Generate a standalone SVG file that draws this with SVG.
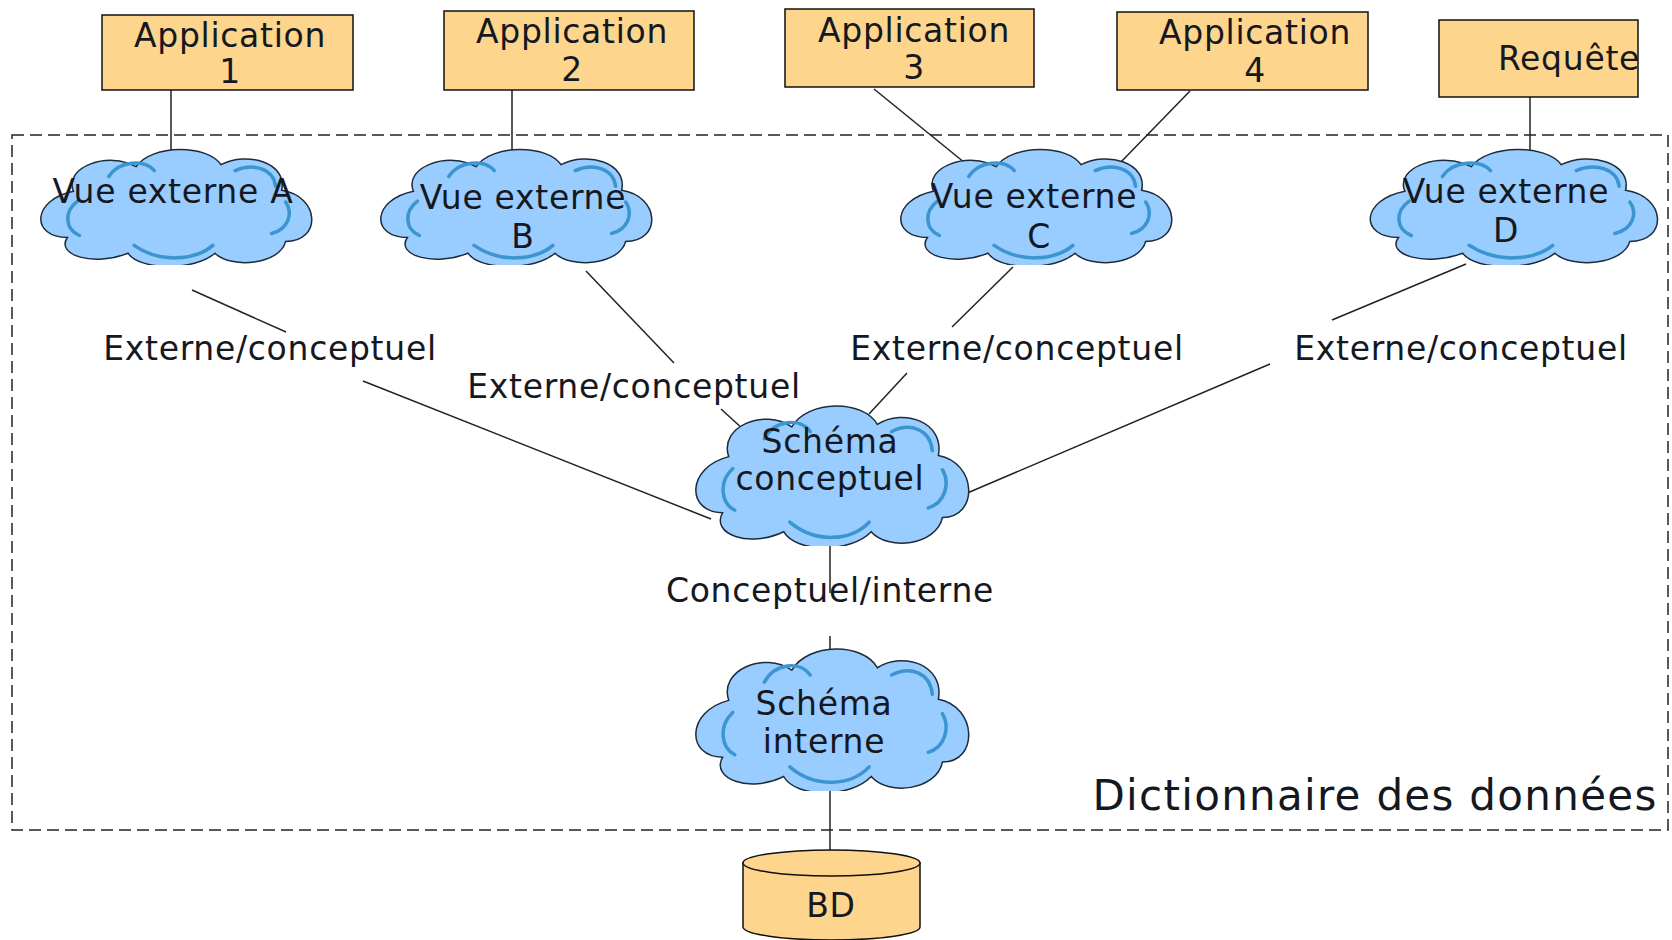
<svg xmlns="http://www.w3.org/2000/svg" width="1672" height="940" viewBox="0 0 1672 940">
<style>
text{font-family:"DejaVu Sans","Liberation Sans",sans-serif;font-size:33px;fill:#15181f;text-anchor:middle;letter-spacing:0.7px}
.box{fill:#fdd58c;stroke:#111;stroke-width:1.5}
.ln{stroke:#222;stroke-width:1.5;fill:none}
.frame{fill:none;stroke:#222;stroke-width:1.5;stroke-dasharray:12 6}
.cl{fill:#99ccff;stroke:#1d2b3a;stroke-width:1.5}
.hl{fill:none;stroke:#3a95d0;stroke-width:3.5;stroke-linecap:round}
</style>
<defs>
<symbol id="cloud" viewBox="0 0 280 120" preserveAspectRatio="none">
<path class="cl" vector-effect="non-scaling-stroke" d="M40 45 C30 20 75 4 102 20 C118 -3 172 -3 186 18 C212 4 252 16 246 44 C284 50 286 96 250 96 C244 120 196 124 180 108 C160 126 106 126 94 108 C60 122 22 110 34 92 C-2 92 -2 54 40 45 Z"/>
<path class="hl" vector-effect="non-scaling-stroke" d="M75 30 C85 14 110 12 120 24"/>
<path class="hl" vector-effect="non-scaling-stroke" d="M200 24 C218 16 238 22 240 40"/>
<path class="hl" vector-effect="non-scaling-stroke" d="M44 55 C30 66 32 84 46 90"/>
<path class="hl" vector-effect="non-scaling-stroke" d="M100 100 C125 118 160 116 178 100"/>
<path class="hl" vector-effect="non-scaling-stroke" d="M236 88 C252 84 258 68 250 56"/>
</symbol>
</defs>
<rect class="frame" x="12" y="135" width="1656" height="695"/>
<g id="connectors">
<line class="ln" x1="171" y1="90" x2="171" y2="150"/>
<line class="ln" x1="512" y1="90" x2="512" y2="150"/>
<line class="ln" x1="874" y1="89" x2="965" y2="163"/>
<line class="ln" x1="1190" y1="91" x2="1120" y2="163"/>
<line class="ln" x1="1530" y1="97" x2="1530" y2="150"/>
<line class="ln" x1="192" y1="290" x2="286" y2="332"/>
<line class="ln" x1="363" y1="381" x2="711" y2="519"/>
<line class="ln" x1="586" y1="271" x2="674" y2="363"/>
<line class="ln" x1="721" y1="409" x2="744" y2="430"/>
<line class="ln" x1="1013" y1="267" x2="952" y2="327"/>
<line class="ln" x1="907" y1="373" x2="869" y2="414"/>
<line class="ln" x1="1466" y1="264" x2="1332" y2="320"/>
<line class="ln" x1="1270" y1="364" x2="965" y2="494"/>
<line class="ln" x1="830" y1="544" x2="830" y2="593"/>
<line class="ln" x1="830" y1="636" x2="830" y2="650"/>
<line class="ln" x1="830" y1="789" x2="830" y2="851"/>
</g>
<g id="app1"><rect class="box" x="102" y="15" width="251" height="75"/><text x="230" y="47">Application</text><text x="230" y="83">1</text></g>
<g id="app2"><rect class="box" x="444" y="11" width="250" height="79"/><text x="572" y="43">Application</text><text x="572" y="81">2</text></g>
<g id="app3"><rect class="box" x="785" y="9" width="249" height="78"/><text x="914" y="42">Application</text><text x="914" y="79">3</text></g>
<g id="app4"><rect class="box" x="1117" y="12" width="251" height="78"/><text x="1255" y="44">Application</text><text x="1255" y="82">4</text></g>
<g id="requete"><rect class="box" x="1439" y="20" width="199" height="77"/><text x="1569" y="70">Requête</text></g>
<g id="vueA"><use href="#cloud" x="33" y="147" width="283" height="118"/><text x="173" y="203">Vue externe A</text></g>
<g id="vueB"><use href="#cloud" x="373" y="147" width="283" height="118"/><text x="523" y="209">Vue externe</text><text x="523" y="248">B</text></g>
<g id="vueC"><use href="#cloud" x="893" y="147" width="283" height="118"/><text x="1034" y="208">Vue externe</text><text x="1039" y="248">C</text></g>
<g id="vueD"><use href="#cloud" x="1362" y="147" width="300" height="118"/><text x="1506" y="203">Vue externe</text><text x="1506" y="242">D</text></g>
<g id="schemaConceptuel"><use href="#cloud" x="688" y="403" width="285" height="143"/><text x="830" y="453">Schéma</text><text x="830" y="490">conceptuel</text></g>
<g id="schemaInterne"><use href="#cloud" x="688" y="646" width="285" height="145"/><text x="824" y="715">Schéma</text><text x="824" y="753">interne</text></g>
<g id="bd">
<path class="box" d="M743 863 L743 927 A88.5 13 0 0 0 920 927 L920 863 Z"/>
<ellipse class="box" cx="831.5" cy="863" rx="88.5" ry="13"/>
<text x="831" y="917">BD</text>
</g>
<g id="labels">
<text x="270" y="360">Externe/conceptuel</text>
<text x="634" y="398">Externe/conceptuel</text>
<text x="1017" y="360">Externe/conceptuel</text>
<text x="1461" y="360">Externe/conceptuel</text>
<text x="830" y="602">Conceptuel/interne</text>
<text x="1375" y="810" style="font-size:42px;letter-spacing:1.3px">Dictionnaire des données</text>
</g>
</svg>
